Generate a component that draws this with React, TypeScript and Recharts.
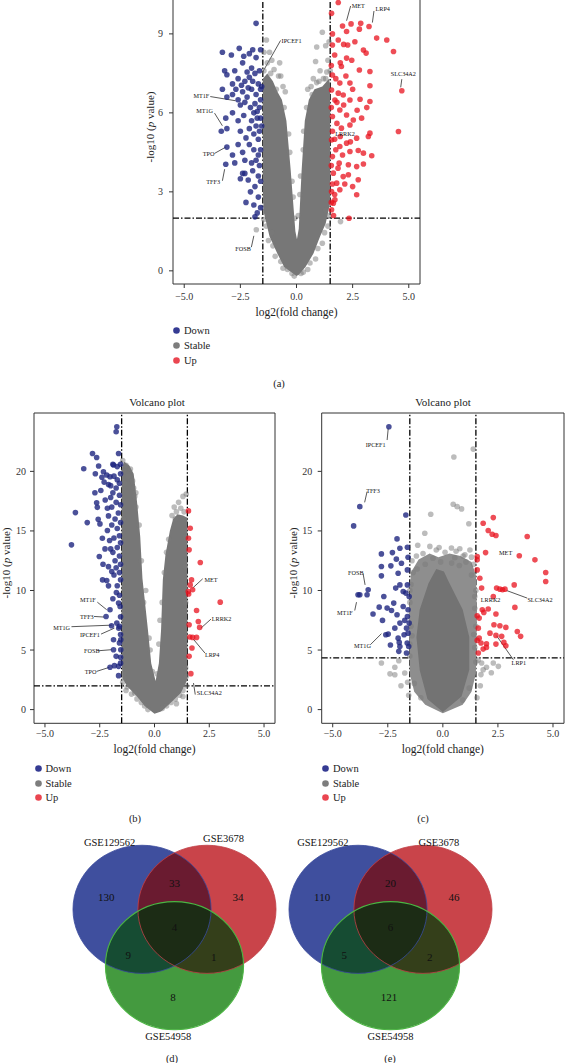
import React from 'react';
import { ScatterChart, Scatter, XAxis, YAxis, ReferenceLine, ReferenceArea, Legend } from 'recharts';

type Pt = [number, number];
type Gene = { name: string; x: number; y: number; line?: [number, number, number, number] };

const FONT = '"Liberation Serif", "DejaVu Serif", serif';

const foldTicks = [-5, -2.5, 0, 2.5, 5];
const foldCut = 1.5;
const legendItems = [
  { name: 'Down', color: '#353b93' },
  { name: 'Stable', color: '#7d7d7d' },
  { name: 'Up', color: '#ea4550' },
];

// ---- (a) ----
const aPTicks = [0, 3, 6, 9];
const aPCut = 2;
const aDown: Pt[] = [
  [-1.8, 9.4], [-3.3, 8.3], [-2.55, 8.45], [-2.1, 8.25], [-1.95, 8.4], [-1.6, 8.4], [-2.9, 8.2], [-2.35, 8.15], [-1.8, 8.1],
  [-3.2, 7.6], [-3.1, 7.45], [-2.75, 7.6], [-2.4, 7.9], [-2.2, 7.55], [-2.0, 7.7], [-1.85, 7.5], [-1.65, 7.6], [-2.6, 7.3],
  [-2.3, 7.2], [-1.95, 7.2], [-1.7, 7.1], [-2.45, 7.05], [-2.1, 7.35], [-2.85, 7.1], [-3.3, 6.9], [-3.1, 6.6], [-2.85, 6.7],
  [-2.6, 6.5], [-2.4, 6.8], [-2.2, 6.6], [-2.0, 6.9], [-1.8, 6.7], [-1.6, 6.5], [-2.5, 6.3], [-2.3, 6.4], [-2.05, 6.2],
  [-1.85, 6.35], [-1.65, 6.2], [-2.7, 6.9], [-2.15, 6.95], [-1.75, 6.05], [-3.15, 5.8], [-2.85, 6.0], [-2.6, 5.7], [-2.35, 5.9],
  [-2.0, 5.7], [-1.8, 5.5], [-1.6, 5.8], [-2.5, 5.3], [-2.1, 5.4], [-1.9, 5.2], [-1.65, 5.3], [-2.25, 5.05], [-1.7, 5.0],
  [-3.35, 5.3], [-3.1, 5.4], [-3.1, 4.7], [-2.6, 4.8], [-2.4, 4.5], [-2.1, 4.8], [-1.9, 4.6], [-1.7, 4.4], [-2.3, 4.2],
  [-2.0, 4.1], [-1.8, 4.2], [-1.6, 4.6], [-2.85, 4.4], [-1.65, 4.0], [-3.15, 4.05], [-2.75, 4.1], [-2.4, 3.7], [-2.15, 3.45],
  [-1.95, 3.8], [-1.7, 3.6], [-1.85, 3.2], [-1.6, 3.4], [-2.3, 3.7], [-2.5, 3.5], [-2.25, 2.6], [-1.9, 2.5], [-1.75, 2.2],
  [-1.6, 2.4], [-1.85, 2.05], [-2.05, 3.0], [-1.7, 2.8], [-1.55, 7.0], [-1.6, 6.9], [-1.9, 6.0], [-1.55, 5.5], [-1.75, 5.8],
];
const aUp: Pt[] = [
  [1.86, 10.19], [1.56, 9.78], [2.05, 9.3], [2.43, 9.38], [2.86, 9.4], [2.8, 9.18], [3.23, 9.28], [3.57, 8.84], [4.02, 8.77],
  [4.32, 8.33], [4.69, 6.84], [4.54, 5.29], [2.23, 9.09], [1.86, 8.77], [1.6, 8.58], [2.28, 8.58], [2.98, 8.39], [3.1, 8.27],
  [2.23, 8.08], [2.46, 8.0], [2.0, 7.76], [2.8, 7.63], [3.27, 7.57], [1.6, 7.44], [1.93, 7.13], [2.38, 7.13], [3.27, 7.03],
  [1.56, 6.87], [1.86, 6.75], [2.08, 6.68], [1.71, 6.49], [2.38, 6.49], [2.83, 6.52], [3.27, 6.43], [3.13, 6.2], [1.93, 6.11],
  [2.23, 5.92], [1.6, 5.86], [2.53, 5.73], [2.38, 5.54], [2.0, 5.42], [3.27, 5.23], [3.2, 5.1], [2.68, 5.04], [1.56, 4.97],
  [1.93, 4.72], [2.23, 4.85], [2.75, 4.57], [2.38, 4.53], [2.98, 4.47], [3.35, 4.37], [1.6, 4.34], [1.9, 4.09], [2.31, 4.03],
  [2.68, 3.96], [2.98, 4.06], [1.64, 3.71], [2.08, 3.58], [2.31, 3.65], [2.75, 3.46], [1.79, 3.33], [1.56, 3.01], [1.93, 3.08],
  [2.68, 2.89], [1.64, 2.57], [1.56, 2.32], [2.34, 2.0], [1.71, 2.7], [1.6, 9.0], [1.7, 8.2], [1.55, 7.8], [1.75, 7.3],
  [1.55, 6.2], [1.8, 5.6], [1.6, 5.3], [1.75, 4.6], [1.55, 4.0], [1.85, 3.9], [1.6, 3.3], [1.7, 2.9], [1.55, 2.6], [1.65, 2.1],
  [2.1, 8.6], [2.6, 8.7], [2.2, 7.4], [2.5, 6.9], [2.1, 6.3], [2.9, 5.8], [2.4, 4.9], [2.15, 3.3], [2.5, 3.2], [1.95, 5.1],
  [2.7, 6.1], [1.8, 6.4], [1.95, 7.9], [1.7, 5.0], [2.05, 4.4],
];
const aStable: Pt[] = [
  [-1.34, 8.77], [-1.1, 8.0], [-0.75, 7.9], [-1.3, 7.9], [-1.0, 7.65], [-0.8, 7.4], [-0.6, 7.0], [-1.45, 8.3], [-1.2, 8.3],
  [1.15, 9.06], [0.9, 8.5], [1.3, 8.55], [1.45, 8.7], [0.85, 7.95], [1.05, 7.6], [1.35, 7.55], [1.2, 7.3], [0.65, 7.0],
  [0.9, 7.15], [1.4, 8.0], [-1.79, 1.56], [1.96, 1.87], [-1.05, 0.95], [-0.7, 0.35], [-0.4, 0.05], [-1.35, 1.7], [-1.5, 2.4],
  [0.95, 0.85], [0.6, 0.3], [1.25, 1.45], [1.45, 2.1], [0.2, -0.1], [-0.2, -0.1], [-0.55, 6.2], [0.45, 6.2], [-0.3, 4.5],
  [0.3, 4.6], [-0.15, 2.8], [0.15, 2.9], [-0.9, 6.9], [0.7, 6.7], [-1.25, 1.15], [-0.95, 0.55], [-0.6, 0.1], [1.15, 1.05],
  [0.85, 0.45], [0.5, 0.05], [-1.45, 1.95], [1.4, 1.7], [-1.1, 1.45], [1.3, 2.3], [-0.35, 5.2], [0.32, 5.3], [-0.5, 6.8],
  [0.5, 6.9], [-0.2, 3.4], [0.18, 3.6], [-0.08, 2.0], [0.08, 2.1], [-0.7, 7.4], [-1.15, 7.5], [1.3, 7.3], [0.75, 7.3],
  [1.0, 7.2], [-1.45, 7.6], [1.5, 7.6], [-0.1, -0.2], [0.3, -0.05],
];
const aCloud: Pt[] = [
  [0, -0.2], [-0.55, 0.15], [-0.85, 0.65], [-1.2, 1.3], [-1.45, 2.2], [-1.5, 3], [-1.5, 7.3], [-1.3, 7.5], [-1.05, 7.2],
  [-0.85, 6.8], [-0.65, 6.5], [-0.45, 5.7], [-0.26, 3.84], [-0.05, 1.5], [0.02, 1.2], [0.1, 1.6], [0.23, 3.84], [0.37, 5.7],
  [0.55, 6.5], [0.8, 6.9], [1.15, 7.0], [1.45, 7.3], [1.5, 7.0], [1.5, 2.6], [1.3, 1.8], [1.05, 1.3], [0.75, 0.65],
  [0.4, 0.15], [0.1, -0.15],
];
const aGenes: Gene[] = [
  { name: 'IPCEF1', x: -0.22, y: 8.73, line: [-1.52, 7.53, -0.71, 8.75] },
  { name: 'MET', x: 2.75, y: 10.08, line: [2.23, 9.5, 2.41, 10.06] },
  { name: 'LRP4', x: 3.84, y: 9.95, line: [3.38, 9.43, 3.45, 9.87] },
  { name: 'SLC34A2', x: 4.76, y: 7.48, line: [4.64, 6.97, 4.69, 7.28] },
  { name: 'LRRK2', x: 2.16, y: 5.2 },
  { name: 'MT1F', x: -4.24, y: 6.65, line: [-3.84, 6.62, -2.71, 6.46] },
  { name: 'MT1G', x: -4.09, y: 6.08, line: [-3.65, 5.99, -3.3, 5.51] },
  { name: 'TPO', x: -3.91, y: 4.46, line: [-3.65, 4.46, -3.15, 4.7] },
  { name: 'TFF3', x: -3.71, y: 3.39, line: [-3.3, 3.42, -3.2, 3.86] },
  { name: 'FOSB', x: -2.38, y: 0.86, line: [-2.01, 0.9, -1.9, 1.33] },
];

// ---- (b) ----
const pTicks = [0, 5, 10, 15, 20];
const bPCut = 2;
const bDown: Pt[] = [
  [-1.72, 23.74], [-1.75, 23.32], [-2.83, 21.5], [-2.64, 21.17], [-3.23, 20.22], [-2.55, 20.45], [-1.64, 21.5], [-2.33, 19.97],
  [-2.18, 19.69], [-1.87, 20.53], [-2.03, 19.55], [-3.61, 16.54], [-3.07, 15.7], [-3.79, 13.83], [-2.72, 18.21], [-2.64, 17.37],
  [-2.61, 16.98], [-2.1, 16.26], [-2.57, 15.98], [-2.49, 15.59], [-2.15, 15.03], [-2.38, 14.39], [-2.26, 13.49], [-2.0, 13.49],
  [-2.52, 12.85], [-2.37, 10.89], [-2.18, 10.84], [-2.1, 10.39], [-1.74, 9.83], [-1.64, 8.94], [-2.03, 8.38], [-2.21, 7.82],
  [-1.96, 7.04], [-1.72, 7.26], [-1.63, 6.84], [-1.87, 5.87], [-1.54, 5.87], [-1.87, 5.03], [-1.75, 4.47], [-1.83, 3.69],
  [-2.03, 3.55], [-1.64, 3.63], [-1.64, 2.85], [-1.54, 5.03], [-1.57, 8.66], [-1.55, 19.8], [-1.6, 19.0], [-1.75, 18.6],
  [-1.9, 18.2], [-1.6, 18.0], [-1.75, 17.4], [-1.55, 17.2], [-1.95, 17.0], [-1.65, 16.5], [-1.8, 16.0], [-1.55, 15.7],
  [-1.95, 15.5], [-1.7, 15.2], [-1.6, 14.6], [-1.85, 14.4], [-2.05, 14.2], [-1.55, 14.0], [-1.7, 13.6], [-1.9, 13.2],
  [-1.6, 12.9], [-1.8, 12.5], [-1.55, 12.2], [-1.75, 11.9], [-1.6, 11.5], [-1.85, 11.3], [-1.55, 10.9], [-1.7, 10.4],
  [-1.6, 9.6], [-1.55, 7.8], [-1.6, 7.0], [-1.55, 6.3], [-1.6, 5.6], [-1.55, 4.4], [-1.55, 3.9], [-2.3, 19.1], [-2.1, 18.9],
  [-2.4, 19.5], [-1.9, 20.6], [-1.7, 20.4], [-1.55, 20.6], [-2.0, 17.8], [-2.25, 17.6], [-2.15, 16.9], [-1.85, 19.6],
  [-2.0, 18.8], [-1.7, 19.3], [-2.7, 19.8], [-2.45, 18.4], [-2.35, 12.2], [-2.1, 12.0], [-1.95, 11.6], [-1.9, 9.3],
];
const bUp: Pt[] = [
  [1.55, 16.68], [1.63, 15.22], [1.55, 14.39], [1.58, 13.41], [2.09, 12.35], [1.69, 10.89], [1.63, 10.47], [1.54, 9.92],
  [1.74, 10.06], [3.0, 9.02], [1.92, 8.32], [2.0, 7.4], [2.06, 6.9], [1.58, 7.12], [1.61, 6.09], [1.74, 6.06], [1.92, 6.06],
  [1.71, 5.17], [1.58, 4.47], [1.66, 3.02], [1.56, 9.7],
];
const bStable: Pt[] = [
  [-1.45, 20.9], [-1.3, 20.5], [-1.1, 20.2], [-1.2, 19.6], [-1.0, 19.2], [-0.95, 18.6], [-1.35, 19.0], [-0.9, 17.9],
  [-0.85, 17.0], [1.45, 18.1], [1.3, 17.9], [1.1, 17.4], [0.9, 17.0], [1.2, 16.9], [1.35, 16.6], [1.0, 16.6], [0.8, 16.3],
  [-1.45, 2.3], [-1.3, 1.6], [-1.05, 1.3], [-0.8, 0.9], [-0.6, 0.6], [-0.45, 0.3], [1.45, 2.0], [1.3, 1.6], [1.15, 1.2],
  [0.95, 0.9], [0.75, 0.6], [0.55, 0.3], [-1.4, 3.0], [1.42, 3.5], [-1.42, 5.0], [-1.4, 8], [-1.42, 12], [-1.42, 16],
  [1.42, 6], [1.42, 9], [1.4, 12], [1.42, 14.5], [-0.6, 12.5], [-0.4, 10.0], [0.35, 9.0], [0.55, 13.2], [-0.2, 5.0], [0.2, 5.5],
  [-0.7, 15.5], [-0.5, 9.0], [-0.25, 6.0], [0.25, 7.5], [0.45, 11.5], [0.65, 14.3], [-0.85, 18.2], [0.95, 16.0], [-0.1, 3.2],
  [0.12, 3.0], [-1.25, 1.9], [1.3, 1.1], [-0.9, 1.4], [1.0, 0.5], [-1.38, 2.7], [1.45, 2.8], [-0.3, 0.0], [0.35, 0.1],
];
const bCloud: Pt[] = [
  [0, -0.35], [-0.45, 0.3], [-0.8, 1.1], [-1.25, 1.95], [-1.45, 2.6], [-1.5, 4], [-1.5, 20.2], [-1.38, 20.8], [-1.15, 20.5],
  [-0.95, 19.8], [-0.8, 17.5], [-0.65, 14.5], [-0.55, 11.0], [-0.3, 6.7], [-0.15, 3.9], [0.05, 2.4], [0.2, 3.9], [0.3, 6.7],
  [0.38, 10.9], [0.5, 13.0], [0.7, 15.0], [0.85, 16.0], [1.05, 16.4], [1.3, 16.3], [1.5, 16.1], [1.5, 2.5], [1.2, 1.4],
  [0.74, 0.58], [0.3, -0.15],
];
const bGenes: Gene[] = [
  { name: 'MET', x: 2.58, y: 10.95, line: [1.74, 10.2, 2.2, 10.98] },
  { name: 'LRRK2', x: 3.06, y: 7.68, line: [2.12, 6.84, 2.58, 7.6] },
  { name: 'LRP4', x: 2.63, y: 4.61, line: [1.77, 5.92, 2.3, 4.75] },
  { name: 'SLC34A2', x: 2.5, y: 1.4, line: [1.78, 2.23, 1.86, 1.26] },
  { name: 'MT1F', x: -3.04, y: 9.27, line: [-2.61, 9.02, -2.18, 8.38] },
  { name: 'TFF3', x: -3.09, y: 7.82, line: [-2.76, 7.82, -2.3, 7.77] },
  { name: 'MT1G', x: -4.24, y: 6.93, line: [-3.79, 6.96, -1.95, 7.09] },
  { name: 'IPCEF1', x: -2.95, y: 6.28, line: [-2.44, 6.34, -1.83, 6.84] },
  { name: 'FOSB', x: -2.86, y: 4.94, line: [-2.57, 4.94, -1.95, 5.03] },
  { name: 'TPO', x: -2.92, y: 3.21, line: [-2.64, 3.21, -2.06, 3.55] },
];

// ---- (c) ----
const cPCut = 4.35;
const cDown: Pt[] = [
  [-2.45, 23.74], [-3.77, 17.04], [-4.05, 15.42], [-1.68, 16.34], [-2.08, 14.33], [-2.79, 13.07], [-2.29, 13.18],
  [-1.58, 12.79], [-2.11, 12.63], [-1.88, 12.29], [-2.79, 12.01], [-2.36, 12.07], [-2.03, 11.45], [-1.61, 11.73],
  [-2.79, 11.23], [-3.39, 10.06], [-3.77, 9.64], [-3.85, 9.64], [-3.44, 9.64], [-2.14, 10.2], [-1.95, 10.47], [-1.8, 9.92],
  [-1.68, 9.78], [-2.68, 9.5], [-3.17, 8.02], [-2.89, 8.6], [-2.53, 8.52], [-2.33, 8.32], [-2.23, 8.94], [-2.74, 7.49],
  [-2.08, 7.96], [-1.95, 7.26], [-1.73, 7.49], [-1.61, 7.82], [-2.18, 6.84], [-2.48, 6.34], [-2.59, 6.28], [-2.38, 5.42],
  [-2.03, 6.0], [-1.98, 5.64], [-1.76, 6.28], [-1.62, 5.59], [-1.58, 6.42], [-2.0, 4.89], [-1.65, 4.75], [-1.95, 5.3],
  [-1.55, 5.3], [-1.65, 6.84], [-1.53, 7.26], [-1.8, 8.66], [-1.58, 8.38], [-1.53, 9.5], [-1.61, 10.47], [-1.95, 13.55],
  [-1.61, 13.63],
];
const cUp: Pt[] = [
  [2.29, 16.12], [1.83, 15.64], [2.06, 15.03], [2.24, 14.72], [2.41, 14.61], [3.83, 14.53], [1.94, 13.18], [1.56, 12.85],
  [1.56, 12.57], [3.47, 12.91], [4.18, 12.57], [4.67, 11.51], [4.67, 10.75], [1.68, 11.03], [1.76, 10.2], [2.44, 10.2],
  [2.59, 10.11], [2.71, 10.06], [2.82, 10.11], [3.24, 10.47], [2.29, 9.5], [3.27, 8.58], [1.79, 8.38], [2.06, 8.44],
  [1.86, 8.16], [2.41, 8.02], [1.65, 7.68], [1.56, 7.88], [2.32, 7.12], [2.59, 7.04], [2.86, 6.9], [2.14, 6.42], [3.38, 6.56],
  [3.53, 6.15], [2.41, 6.23], [1.65, 6.0], [1.73, 5.59], [1.98, 5.53], [1.83, 5.08], [1.98, 5.22], [2.41, 5.5], [2.77, 5.64],
  [2.86, 5.36], [1.56, 5.81], [1.61, 4.75], [2.67, 6.15], [1.56, 11.73], [1.61, 6.84],
];
const cStable: Pt[] = [
  [0.5, 21.2], [1.38, 21.87], [0.47, 17.24], [0.65, 17.04], [0.85, 16.85], [-0.55, 16.4], [1.18, 15.6], [-0.82, 14.8],
  [-1.14, 13.8], [-0.59, 13.7], [-0.17, 13.6], [0.39, 13.57], [0.77, 13.5], [1.23, 13.4], [0.92, 12.9], [0.54, 12.75],
  [-1.17, 11.8], [-0.45, 12.7], [-1.4, 12.5], [1.4, 12.2], [-0.9, 13.1], [0.1, 13.2], [1.05, 12.4], [-2.79, 3.91],
  [-2.18, 3.55], [-2.18, 2.93], [-1.73, 3.07], [-2.0, 4.1], [-1.6, 2.3], [-1.9, 2.0], [1.76, 3.91], [1.98, 3.55], [2.29, 3.91],
  [2.52, 3.63], [1.83, 3.35], [1.73, 2.94], [1.6, 4.15], [2.2, 3.1], [-2.4, 3.0], [-1.55, 1.2], [1.55, 1.0], [1.7, 2.0],
  [-1.45, 10.5], [-1.5, 9.0], [-1.45, 7.0], [-1.5, 5.5], [1.5, 10.0], [1.45, 8.5], [1.5, 7.0], [1.45, 5.2], [-1.35, 11.5],
  [1.3, 11.3], [-1.2, 12.9], [-0.3, 13.4], [0.6, 13.3], [1.0, 13.0], [-0.8, 12.2], [1.3, 12.8], [-1.3, 2.2], [1.2, 1.8],
  [-1.0, 1.0], [0.9, 0.8], [-1.5, 4.5], [1.5, 4.0], [-1.4, 6.2], [1.4, 6.3], [-1.5, 10.0], [1.45, 9.5], [0.4, 12.3],
  [-0.1, 12.4], [0.75, 12.1],
];
const cCloudOuter: Pt[] = [
  [0, -0.3], [-0.8, 0.4], [-1.3, 1.5], [-1.5, 3], [-1.55, 8], [-1.45, 11.5], [-1.1, 12.6], [-0.6, 13.1], [-0.2, 12.8],
  [0.3, 13.1], [0.8, 12.9], [1.3, 12.4], [1.5, 11.3], [1.55, 8], [1.5, 3], [1.3, 1.5], [0.9, 0.4],
];
const cCloudCore: Pt[] = [
  [0, -0.2], [-0.7, 0.9], [-1.05, 3.3], [-1.2, 6.1], [-1.05, 8.4], [-0.65, 10.6], [-0.3, 11.8], [0.05, 11.6], [0.25, 10.8],
  [0.9, 8.4], [1.2, 6.1], [1.2, 3.35], [0.85, 1.1],
];
const cGenes: Gene[] = [
  { name: 'IPCEF1', x: -3.05, y: 22.29, line: [-2.48, 23.6, -2.53, 22.63] },
  { name: 'TFF3', x: -3.17, y: 18.38, line: [-3.55, 17.4, -3.44, 18.3] },
  { name: 'FOSB', x: -3.95, y: 11.51, line: [-3.62, 11.4, -3.53, 10.47] },
  { name: 'MT1F', x: -4.45, y: 8.16, line: [-4.0, 8.32, -3.92, 9.02] },
  { name: 'MT1G', x: -3.65, y: 5.39, line: [-3.29, 5.45, -2.79, 6.37] },
  { name: 'MET', x: 2.85, y: 13.18 },
  { name: 'LRRK2', x: 2.17, y: 9.22 },
  { name: 'SLC34A2', x: 4.41, y: 9.27, line: [2.89, 10.0, 3.83, 9.36] },
  { name: 'LRP1', x: 3.45, y: 3.97, line: [2.44, 6.2, 3.2, 4.19] },
];

// ---- Venn (d), (e) ----
const vennNames = ['GSE129562', 'GSE3678', 'GSE54958'];
// regions: only1, 1&2, only2, 1&3, all, 2&3, only3
const dCounts = [130, 33, 34, 9, 4, 1, 8];
const eCounts = [110, 20, 46, 5, 6, 2, 121];

// venn layout in unit radii
const VENN_CENTERS: Pt[] = [[-0.47, 0.44], [0.47, 0.44], [0, -0.44]];
const VENN_ANCHORS: Pt[] = [[-0.99, 0.63], [0, 0.85], [0.92, 0.63], [-0.67, -0.28], [0, 0.16], [0.57, -0.31], [-0.02, -0.93]];
const VENN_FILL = ['#3f4f9e', '#c9444a', '#449a3f'];
const VENN_STROKE = ['#3a4a9c', '#c03f46', '#4cb443'];
const VENN_PAIRS = [
  { a: 0, b: 1, fill: '#6a1b30' },
  { a: 1, b: 2, fill: '#343f1a' },
  { a: 0, b: 2, fill: '#164c33' },
];
const VENN_ALL = '#1c2c15';

const toPts = (a: Pt[]) => a.map(([x, y]) => ({ x, y }));

const dot = (fill: string, opacity: number) => (p: any) =>
  <circle cx={p.cx} cy={p.cy} r={2.8} fill={fill} fillOpacity={opacity} />;

const polygonLine = (fill: string) => (lp: any) =>
  <polygon points={(lp.points || []).map((q: any) => `${q.x},${q.y}`).join(' ')} fill={fill} stroke="none" />;

const geneText = (p: any) => (
  <text x={p.cx} y={p.cy} textAnchor="middle" dominantBaseline="central" fontSize={6.2} fontFamily={FONT} fill="#111">
    {p.payload.name}
  </text>
);

const LegendBox = ({ row }: { row: number }) => (
  <div style={{ fontFamily: FONT, fontSize: 10.5, color: '#222' }}>
    {legendItems.map((it) => (
      <div key={it.name} style={{ height: row, display: 'flex', alignItems: 'center' }}>
        <svg width={9} height={9}><circle cx={4.5} cy={4.5} r={3.3} fill={it.color} /></svg>
        <span style={{ marginLeft: 3 }}>{it.name}</span>
      </div>
    ))}
  </div>
);

interface VolcanoProps {
  left: number; top: number; width: number; height: number;
  margin: { top: number; right: number; bottom: number; left: number };
  yDomain: [number, number]; yTicks: number[]; pCut: number;
  down: Pt[]; up: Pt[]; stable: Pt[]; clouds: { pts: Pt[]; fill: string }[]; genes: Gene[];
  xTickMargin: number; yTickMargin: number; xTitleGap: number;
  yTitle: { x: number; y: number };
  legend: { left: number; top: number; row: number };
}

const Volcano = (v: VolcanoProps) => {
  const cut = { stroke: '#000', strokeWidth: 1.3, strokeDasharray: '6 2 1.5 2' };
  const tick = { fill: '#333', fontSize: 10, fontFamily: FONT };
  return (
    <div style={{ position: 'absolute', left: v.left, top: v.top }}>
      <ScatterChart width={v.width} height={v.height} margin={v.margin}>
        <XAxis
          type="number" dataKey="x" domain={[-5.5, 5.5]} ticks={foldTicks} allowDataOverflow
          tickFormatter={(t: number) => t.toFixed(1).replace('-', '\u2212')}
          axisLine={false} tickLine={{ stroke: '#333' }} tickSize={4} tickMargin={v.xTickMargin}
          tick={tick} height={30}
          label={(p: any) => (
            <text x={p.viewBox.x + p.viewBox.width / 2} y={p.viewBox.y + v.xTitleGap} textAnchor="middle"
              fontSize={11.5} fontFamily={FONT} fill="#222">log2(fold change)</text>
          )}
        />
        <YAxis
          type="number" dataKey="y" domain={v.yDomain} ticks={v.yTicks} allowDataOverflow
          axisLine={false} tickLine={{ stroke: '#333' }} tickSize={4} tickMargin={v.yTickMargin}
          tick={tick} width={30}
          label={() => (
            <text x={v.yTitle.x} y={v.yTitle.y} transform={`rotate(-90 ${v.yTitle.x} ${v.yTitle.y})`}
              textAnchor="middle" fontSize={11} fontFamily={FONT} fill="#222">
              -log10 (<tspan fontStyle="italic">p</tspan> value)
            </text>
          )}
        />
        {v.clouds.map((c, i) => (
          <Scatter key={'cl' + i} data={toPts(c.pts)} shape={() => <g />} line={polygonLine(c.fill)}
            lineType="joint" legendType="none" isAnimationActive={false} />
        ))}
        <Scatter data={toPts(v.stable)} shape={dot('#7a7a7a', 0.5)} isAnimationActive={false} />
        <Scatter data={toPts(v.down)} shape={dot('#1e2580', 0.8)} isAnimationActive={false} />
        <Scatter data={toPts(v.up)} shape={dot('#e8121e', 0.75)} isAnimationActive={false} />
        <ReferenceLine x={-foldCut} {...cut} />
        <ReferenceLine x={foldCut} {...cut} />
        <ReferenceLine y={v.pCut} {...cut} />
        {v.genes.filter((g) => g.line).map((g) => (
          <ReferenceLine key={g.name} stroke="#111" strokeWidth={0.7}
            segment={[{ x: g.line![0], y: g.line![1] }, { x: g.line![2], y: g.line![3] }]} />
        ))}
        <Scatter data={v.genes} shape={geneText} isAnimationActive={false} />
        <ReferenceArea x1={-5.5} x2={5.5} y1={v.yDomain[0]} y2={v.yDomain[1]} fill="none" fillOpacity={0}
          stroke="#333" strokeWidth={1} />
        <Legend layout="vertical" align="center" verticalAlign="middle"
          wrapperStyle={{ left: v.legend.left, top: v.legend.top, width: 80, height: v.legend.row * 3 }}
          content={() => <LegendBox row={v.legend.row} />} />
      </ScatterChart>
    </div>
  );
};

const VW = 221;
const VH = 205;
const VM = 14;
const RX = VW / 3.2;
const RY = VH / 3.2;

const Venn = ({ id, left, top, counts, labelAt }: { id: string; left: number; top: number; counts: number[]; labelAt: Pt[] }) => {
  const sets = VENN_CENTERS.map(([x, y], i) => ({ x, y, i }));
  const pairs = VENN_PAIRS.map((p) => ({ x: VENN_CENTERS[p.a][0], y: VENN_CENTERS[p.a][1], ...p }));
  const all = [{ x: VENN_CENTERS[0][0], y: VENN_CENTERS[0][1] }];
  const nums = VENN_ANCHORS.map(([x, y], i) => ({ x, y, n: counts[i] }));
  const names = labelAt.map(([x, y], i) => ({ x, y, n: vennNames[i] }));
  const txt = (size: number) => (p: any) => (
    <text x={p.cx} y={p.cy} textAnchor="middle" dominantBaseline="central" fontSize={size} fontFamily={FONT} fill="#111">
      {p.payload.n}
    </text>
  );
  return (
    <div style={{ position: 'absolute', left: left - VM, top: top - VM }}>
      <ScatterChart width={VW + 2 * VM} height={VH + 2 * VM} margin={{ top: VM, right: VM, bottom: VM, left: VM }}>
        <XAxis type="number" dataKey="x" domain={[-1.6, 1.6]} hide allowDataOverflow />
        <YAxis type="number" dataKey="y" domain={[-1.6, 1.6]} hide allowDataOverflow />
        <Scatter data={sets} isAnimationActive={false} shape={(p: any) => (
          <g>
            <defs>
              <clipPath id={`${id}-c${p.payload.i}`}>
                <ellipse cx={p.cx} cy={p.cy} rx={RX} ry={RY} />
              </clipPath>
            </defs>
            <ellipse cx={p.cx} cy={p.cy} rx={RX} ry={RY} fill={VENN_FILL[p.payload.i]} />
          </g>
        )} />
        <Scatter data={pairs} isAnimationActive={false} shape={(p: any) => (
          <ellipse cx={p.cx} cy={p.cy} rx={RX} ry={RY} fill={p.payload.fill} clipPath={`url(#${id}-c${p.payload.b})`} />
        )} />
        <Scatter data={all} isAnimationActive={false} shape={(p: any) => (
          <g clipPath={`url(#${id}-c2)`}>
            <ellipse cx={p.cx} cy={p.cy} rx={RX} ry={RY} fill={VENN_ALL} clipPath={`url(#${id}-c1)`} />
          </g>
        )} />
        <Scatter data={sets} isAnimationActive={false} shape={(p: any) => (
          <ellipse cx={p.cx} cy={p.cy} rx={RX} ry={RY} fill="none" stroke={VENN_STROKE[p.payload.i]}
            strokeWidth={p.payload.i === 2 ? 1.1 : 0.8} />
        )} />
        <Scatter data={nums} isAnimationActive={false} shape={txt(11)} />
        <Scatter data={names} isAnimationActive={false} shape={txt(10.5)} />
      </ScatterChart>
    </div>
  );
};

const Note = ({ x, y, text, size = 10.5 }: { x: number; y: number; text: string; size?: number }) => (
  <div style={{ position: 'absolute', left: x, top: y, transform: 'translate(-50%, -50%)', fontFamily: FONT, fontSize: size, color: '#222', whiteSpace: 'nowrap' }}>
    {text}
  </div>
);

export default function App() {
  return (
    <div style={{ position: 'absolute', left: 0, top: 0, width: 565, height: 1063, overflow: 'hidden', background: '#fff' }}>
      <Volcano
        left={0} top={-40} width={565} height={430}
        margin={{ top: 26.5, right: 145, bottom: 76, left: 143 }}
        yDomain={[-0.5, 10.8]} yTicks={aPTicks} pCut={aPCut}
        down={aDown} up={aUp} stable={aStable} clouds={[{ pts: aCloud, fill: '#777777' }]} genes={aGenes}
        xTickMargin={4.9} yTickMargin={6} xTitleGap={31.6}
        yTitle={{ x: 153.5, y: 167 }}
        legend={{ left: 172, top: 363.2, row: 15 }}
      />
      <Note x={279} y={383} text="(a)" />

      <Note x={157} y={402} text="Volcano plot" size={11} />
      <Volcano
        left={0} top={380} width={285} height={450}
        margin={{ top: 33, right: 10, bottom: 76.7, left: 4 }}
        yDomain={[-1.15, 24.9]} yTicks={pTicks} pCut={bPCut}
        down={bDown} up={bUp} stable={bStable} clouds={[{ pts: bCloud, fill: '#777777' }]} genes={bGenes}
        xTickMargin={2.9} yTickMargin={4} xTitleGap={29.6}
        yTitle={{ x: 9.5, y: 183 }}
        legend={{ left: 33.5, top: 381.8, row: 14.4 }}
      />
      <Note x={135} y={818} text="(b)" />

      <Note x={443} y={402} text="Volcano plot" size={11} />
      <Volcano
        left={285} top={380} width={280} height={450}
        margin={{ top: 33, right: 1, bottom: 76.7, left: 6.7 }}
        yDomain={[-1.15, 24.9]} yTicks={pTicks} pCut={cPCut}
        down={cDown} up={cUp} stable={cStable}
        clouds={[{ pts: cCloudOuter, fill: '#8e8e8e' }, { pts: cCloudCore, fill: '#737373' }]} genes={cGenes}
        xTickMargin={2.9} yTickMargin={5.4} xTitleGap={29.6}
        yTitle={{ x: 11.5, y: 183 }}
        legend={{ left: 36, top: 381.8, row: 14.4 }}
      />
      <Note x={423} y={818} text="(c)" />

      <Venn id="vd" left={64} top={835} counts={dCounts}
        labelAt={[[-0.94, 1.48], [0.71, 1.54], [-0.09, -1.54]]} />
      <Note x={172} y={1058} text="(d)" />
      <Venn id="ve" left={280} top={835} counts={eCounts}
        labelAt={[[-0.98, 1.49], [0.7, 1.49], [0, -1.55]]} />
      <Note x={390} y={1058} text="(e)" />
    </div>
  );
}
